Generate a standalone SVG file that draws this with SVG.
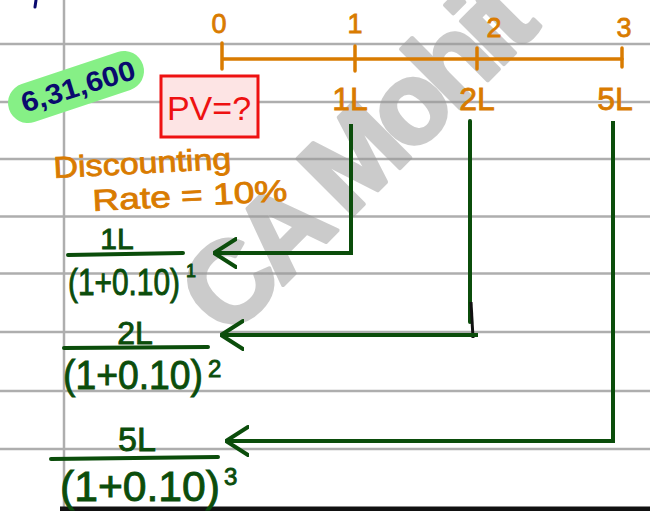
<svg xmlns="http://www.w3.org/2000/svg" width="650" height="511" viewBox="0 0 650 511">
<defs>
<style>
.rule{stroke:#aeaeae;stroke-width:2.5;fill:none}
.orange{fill:#d97b00;stroke:#d97b00;stroke-width:0.8;font-family:"Liberation Sans",Arial,sans-serif}
.ostroke{stroke:#d97b00;stroke-width:3.5;fill:none;stroke-linecap:round}
.green{fill:#0b4d0b;stroke:#0b4d0b;stroke-width:0.9;font-family:"Liberation Sans",Arial,sans-serif}
.gline{stroke:#0b4d0b;stroke-width:4;fill:none;stroke-linecap:round}
.conn{stroke:#0b4d0b;stroke-width:4;fill:none;marker-end:url(#chev)}
</style>
<marker id="chev" viewBox="0 0 24 32" refX="23" refY="16" markerWidth="24" markerHeight="32" markerUnits="userSpaceOnUse" orient="auto">
<path d="M1,2 L23,16 L1,30" fill="none" stroke="#0b4d0b" stroke-width="4" stroke-linecap="round" stroke-linejoin="round"/>
</marker>
</defs>
<rect width="650" height="511" fill="#ffffff"/>
<g id="paper">
<path class="rule" d="M0,44H650M0,102H650M0,159H650M0,216.5H650M0,273.5H650M0,332H650M0,391H650M0,449H650"/>
<line class="rule" x1="64" y1="0" x2="64" y2="511"/>
<line x1="60" y1="509" x2="650" y2="509" stroke="#111" stroke-width="5"/>
<line x1="36" y1="0" x2="35" y2="7" stroke="#0a0a6e" stroke-width="3" stroke-linecap="round"/>
</g>
<g id="watermark">
<text x="228" y="340" transform="rotate(-45 228 340)" font-family="Liberation Sans,Arial,sans-serif" font-weight="bold" font-size="115" letter-spacing="-8" fill="#999" stroke="#999" stroke-width="4" stroke-linejoin="round" opacity="0.5">CA Mohit</text>
</g>
<g id="timeline">
<line class="ostroke" x1="223" y1="59" x2="622" y2="59"/>
<line class="ostroke" x1="222" y1="43" x2="222" y2="69"/>
<line class="ostroke" x1="355" y1="46" x2="355" y2="71"/>
<line class="ostroke" x1="477" y1="48" x2="477" y2="69"/>
<line class="ostroke" x1="622" y1="48" x2="622" y2="67"/>
<text class="orange" x="219" y="33" font-size="27" text-anchor="middle">0</text>
<text class="orange" x="355" y="33" font-size="27" text-anchor="middle">1</text>
<text class="orange" x="494" y="37" font-size="27" text-anchor="middle">2</text>
<text class="orange" x="624" y="37" font-size="27" text-anchor="middle">3</text>
</g>
<g id="cf1"><text class="orange" x="350" y="110" font-size="32" text-anchor="middle">1L</text></g>
<g id="cf2"><text class="orange" x="477" y="110" font-size="32" text-anchor="middle">2L</text></g>
<g id="cf3"><text class="orange" x="615" y="110" font-size="32" text-anchor="middle">5L</text></g>
<g id="pv">
<rect x="161" y="76" width="97" height="61" fill="#fde4e4" stroke="#ee1111" stroke-width="3"/>
<text x="209" y="120" font-family="Liberation Sans,Arial,sans-serif" font-size="34" fill="#ee1111" text-anchor="middle">PV=?</text>
</g>
<g id="answer">
<line x1="28" y1="103" x2="124" y2="71" stroke="#86f086" stroke-width="40" stroke-linecap="round"/>
<text x="78" y="96" transform="rotate(-17 78 86)" font-family="Liberation Sans,Arial,sans-serif" font-weight="bold" font-size="28" fill="#0a0a6e" text-anchor="middle" textLength="118" lengthAdjust="spacingAndGlyphs">6,31,600</text>
</g>
<g id="rate">
<text class="orange" x="54" y="178" font-size="30" transform="rotate(-3 54 178)" textLength="178" lengthAdjust="spacingAndGlyphs">Discounting</text>
<text class="orange" x="93" y="211" font-size="30" transform="rotate(-3 93 211)" textLength="195" lengthAdjust="spacingAndGlyphs">Rate = 10%</text>
</g>
<g id="connectors">
<path class="conn" d="M351,124V253H214"/>
<path class="gline" d="M470,121V322"/>
<line x1="471" y1="302" x2="473" y2="338" stroke="#111" stroke-width="3"/>
<path class="conn" d="M478,335H221"/>
<path class="conn" d="M613,121V441H226"/>
</g>
<g id="frac1">
<text class="green" x="117" y="249" font-size="30" text-anchor="middle">1L</text>
<line class="gline" x1="68" y1="255" x2="183" y2="253"/>
<text class="green" x="68" y="295" font-size="36" textLength="112" lengthAdjust="spacingAndGlyphs">(1+0.10)</text>
<text class="green" x="186" y="277" font-size="18">1</text>
</g>
<g id="frac2">
<text class="green" x="135" y="344" font-size="32" text-anchor="middle">2L</text>
<line class="gline" x1="64" y1="348" x2="208" y2="347"/>
<text class="green" x="63" y="389" font-size="40" textLength="140" lengthAdjust="spacingAndGlyphs">(1+0.10)</text>
<text class="green" x="208" y="377" font-size="24">2</text>
</g>
<g id="frac3">
<text class="green" x="137" y="451" font-size="34" text-anchor="middle">5L</text>
<line class="gline" x1="51" y1="459" x2="218" y2="457"/>
<text class="green" x="60" y="501" font-size="42" textLength="160" lengthAdjust="spacingAndGlyphs">(1+0.10)</text>
<text class="green" x="224" y="485" font-size="24">3</text>
</g>
</svg>
